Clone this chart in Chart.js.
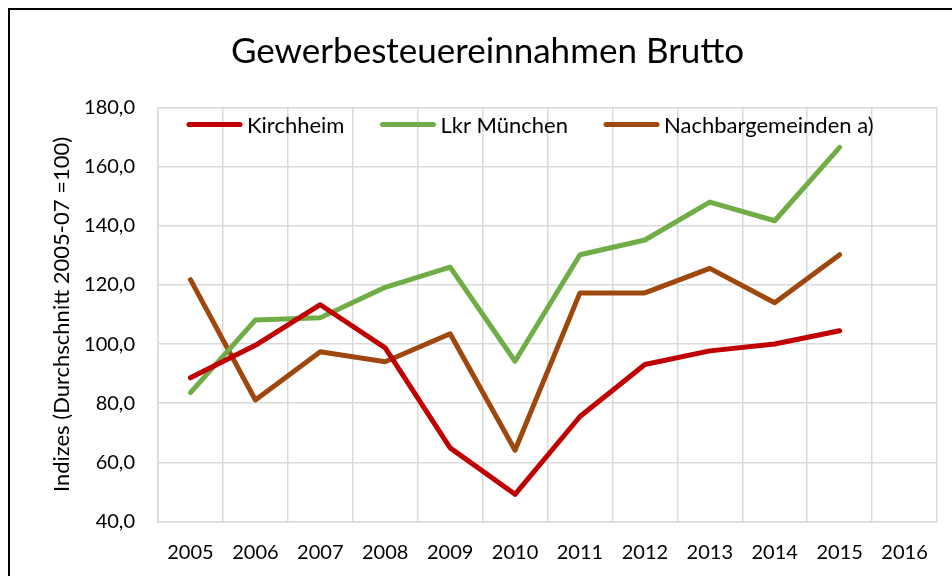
<!DOCTYPE html>
<html>
<head>
<meta charset="utf-8">
<script src="https://cdn.jsdelivr.net/npm/chart.js@4/dist/chart.umd.min.js"></script>
<style>
  html, body { margin: 0; padding: 0; background: #fff; }
  #wrap { width: 952px; height: 576px; position: relative; }
</style>
</head>
<body>
<div id="wrap"><canvas id="c" width="952" height="576"></canvas></div>
<script>
const years = ['2005','2006','2007','2008','2009','2010','2011','2012','2013','2014','2015','2016'];
const kirchheim = [88.6, 99.6, 113.3, 98.7, 64.9, 49.2, 75.5, 93.1, 97.7, 100.0, 104.5, null];
const lkrMuenchen = [83.6, 108.1, 108.9, 119.2, 126.0, 94.2, 130.2, 135.2, 148.0, 141.7, 166.5, null];
const nachbargemeinden = [121.8, 81.1, 97.4, 94.0, 103.5, 64.1, 117.3, 117.3, 125.6, 114.0, 130.2, null];
const seriesNames = ['Kirchheim', 'Lkr München', 'Nachbargemeinden a)'];
const seriesColors = ['#C00000', '#70AD47', '#9E480E'];
const chartTitle = 'Gewerbesteuereinnahmen Brutto';
const yAxisTitle = 'Indizes (Durchschnitt 2005-07 =100)';
const yMin = 40, yMax = 180, yStep = 20;

const FONT = 'Lato';

const framePlugin = {
  id: 'frame',
  beforeDraw(chart) {
    const ctx = chart.ctx;
    ctx.save();
    ctx.fillStyle = '#fff';
    ctx.fillRect(0, 0, chart.width, chart.height);
    ctx.strokeStyle = '#000';
    ctx.lineWidth = 2;
    ctx.beginPath();
    ctx.moveTo(9, chart.height + 5);
    ctx.lineTo(9, 9);
    ctx.lineTo(chart.width + 5, 9);
    ctx.stroke();
    // title
    ctx.fillStyle = '#000';
    ctx.font = '35px ' + FONT;
    ctx.textAlign = 'center';
    ctx.textBaseline = 'middle';
    ctx.fillText(chartTitle, 487.5, 52);
    ctx.restore();
  }
};

const legendPlugin = {
  id: 'innerLegend',
  afterDatasetsDraw(chart) {
    const ctx = chart.ctx;
    ctx.save();
    ctx.font = '22px ' + FONT;
    ctx.textBaseline = 'middle';
    ctx.textAlign = 'left';
    let x = 187;
    const y = 124.5;
    chart.data.datasets.forEach(ds => {
      ctx.strokeStyle = ds.borderColor;
      ctx.lineWidth = 5;
      ctx.lineCap = 'round';
      ctx.beginPath();
      ctx.moveTo(x + 2, y);
      ctx.lineTo(x + 53, y);
      ctx.stroke();
      ctx.fillStyle = '#000';
      ctx.fillText(ds.label, x + 60, y + 1);
      x += 60 + ctx.measureText(ds.label).width + 36;
    });
    ctx.restore();
  }
};

const datasets = [kirchheim, lkrMuenchen, nachbargemeinden].map((d, i) => ({
  label: seriesNames[i],
  data: d,
  borderColor: seriesColors[i],
  backgroundColor: seriesColors[i],
  borderWidth: 5,
  borderCapStyle: 'round',
  borderJoinStyle: 'round',
  pointRadius: 0,
  pointHoverRadius: 0,
  tension: 0,
  spanGaps: false
}));

new Chart(document.getElementById('c'), {
  type: 'line',
  data: { labels: years, datasets },
  options: {
    responsive: false,
    animation: false,
    devicePixelRatio: 1,
    layout: { padding: { left: 0, right: 15, top: 107.5, bottom: 0 } },
    plugins: {
      legend: { display: false },
      tooltip: { enabled: false },
      title: { display: false }
    },
    scales: {
      x: {
        offset: true,
        grid: { offset: true, color: '#d9d9d9', lineWidth: 1.5, drawTicks: false },
        border: { color: '#d9d9d9', width: 1.5 },
        ticks: { color: '#000', font: { family: FONT, size: 20 }, padding: 19, maxRotation: 0, autoSkip: false },
        afterFit(scale) { scale.height = 54.5; }
      },
      y: {
        min: yMin,
        max: yMax,
        grid: { color: '#d9d9d9', lineWidth: 1.5, drawTicks: false },
        border: { color: '#d9d9d9', width: 1.5 },
        ticks: {
          stepSize: yStep,
          color: '#000',
          font: { family: FONT, size: 20 },
          padding: 23,
          callback: v => v.toFixed(1).replace('.', ',')
        },
        title: {
          display: true,
          text: yAxisTitle,
          color: '#000',
          font: { family: FONT, size: 22, weight: 'normal' },
          padding: { top: 49, bottom: 0 }
        },
        afterFit(scale) { scale.width = 158; }
      }
    }
  },
  plugins: [framePlugin, legendPlugin]
});
</script>
</body>
</html>
